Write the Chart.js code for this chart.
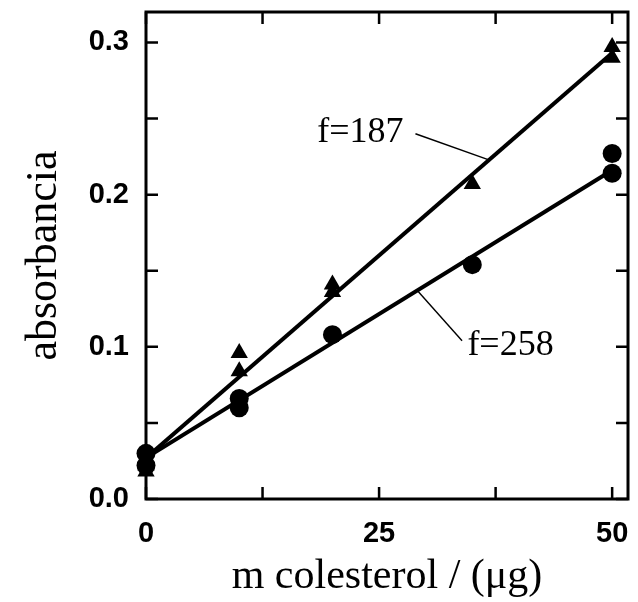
<!DOCTYPE html>
<html>
<head>
<meta charset="utf-8">
<script src="https://cdn.jsdelivr.net/npm/chart.js@4"></script>
<style>
  html, body { margin: 0; padding: 0; background: #fff; }
  #wrap { width: 638px; height: 602px; }
</style>
</head>
<body>
<div id="wrap"><canvas id="chart" width="638" height="602"></canvas></div>
<script>
const triX = [0, 0, 10, 10, 20, 20, 35, 50, 50];
const triY = [0.018, 0.022, 0.096, 0.084, 0.141, 0.136, 0.207, 0.297, 0.290];
const circX = [0, 0, 10, 10, 20, 35, 50, 50];
const circY = [0.030, 0.022, 0.066, 0.060, 0.108, 0.154, 0.227, 0.214];

// fitted lines (end points)
const fitX = [0, 50];
const fit187Y = [0.027, 0.293];
const fit258Y = [0.027, 0.216];

// leader lines for the labels
const lead187X = [28.9, 36.7];
const lead187Y = [0.240, 0.223];
const lead258X = [29.1, 33.9];
const lead258Y = [0.137, 0.104];

const labels = ['f=187', 'f=258'];
const labelX = [23.0, 39.1];
const labelY = [0.241, 0.101];

const xTicks = [0, 12.5, 25, 37.5, 50];
const xLabelled = [0, 25, 50];
const yTicks = [0, 0.05, 0.1, 0.15, 0.2, 0.25, 0.3];
const yLabelled = [0, 0.1, 0.2, 0.3];

function pts(xs, ys) {
    return xs.map((x, i) => ({ x: x, y: ys[i] }));
}

const framePlugin = {
    id: 'frame',
    afterDatasetsDraw(chart) {
        const ctx = chart.ctx;
        const a = chart.chartArea;
        const xs = chart.scales.x, ys = chart.scales.y;
        ctx.save();
        ctx.strokeStyle = '#000';
        ctx.lineWidth = 3;
        ctx.strokeRect(a.left, a.top, a.right - a.left, a.bottom - a.top);
        ctx.lineWidth = 2.5;
        ctx.beginPath();
        xTicks.forEach(v => {
            const px = xs.getPixelForValue(v);
            ctx.moveTo(px, a.bottom); ctx.lineTo(px, a.bottom - 12);
            ctx.moveTo(px, a.top); ctx.lineTo(px, a.top + 12);
        });
        yTicks.forEach(v => {
            const py = ys.getPixelForValue(v);
            ctx.moveTo(a.left, py); ctx.lineTo(a.left + 12, py);
            ctx.moveTo(a.right, py); ctx.lineTo(a.right - 12, py);
        });
        ctx.stroke();

        // curve labels
        ctx.fillStyle = '#000';
        ctx.font = '36px "Liberation Serif", serif';
        ctx.textAlign = 'center';
        ctx.textBaseline = 'middle';
        labels.forEach((t, i) => {
            ctx.fillText(t, xs.getPixelForValue(labelX[i]), ys.getPixelForValue(labelY[i]));
        });
        ctx.restore();
    }
};

new Chart(document.getElementById('chart'), {
    type: 'scatter',
    data: {
        datasets: [
            {
                type: 'line', data: pts(fitX, fit187Y), borderColor: '#000',
                borderWidth: 4, pointRadius: 0, fill: false
            },
            {
                type: 'line', data: pts(fitX, fit258Y), borderColor: '#000',
                borderWidth: 4, pointRadius: 0, fill: false
            },
            {
                type: 'line', data: pts(lead187X, lead187Y), borderColor: '#000',
                borderWidth: 1.4, pointRadius: 0, fill: false
            },
            {
                type: 'line', data: pts(lead258X, lead258Y), borderColor: '#000',
                borderWidth: 1.4, pointRadius: 0, fill: false
            },
            {
                data: pts(triX, triY), pointStyle: 'triangle', pointRadius: 10,
                backgroundColor: '#000', borderColor: '#000', borderWidth: 0, clip: false
            },
            {
                data: pts(circX, circY), pointStyle: 'circle', pointRadius: 9.5,
                backgroundColor: '#000', borderColor: '#000', borderWidth: 0, clip: false
            }
        ]
    },
    options: {
        responsive: false,
        animation: false,
        layout: { padding: { left: 0, right: 5, top: 12, bottom: 0 } },
        plugins: {
            legend: { display: false },
            tooltip: { enabled: false }
        },
        scales: {
            x: {
                type: 'linear',
                min: 0,
                max: 51.7,
                afterBuildTicks: function(scale) {
                    scale.ticks = xTicks.map(v => ({ value: v }));
                },
                afterFit: function(scale) {
                    scale.height = 103;
                    scale.paddingLeft = 0;
                    scale.paddingRight = 0;
                },
                ticks: {
                    autoSkip: false,
                    maxRotation: 0,
                    padding: 18,
                    color: '#000',
                    font: { family: '"Liberation Sans", Arial, sans-serif', size: 29, weight: 'bold' },
                    callback: function(value) {
                        return xLabelled.includes(value) ? String(value) : '';
                    }
                },
                grid: { display: false, drawTicks: false },
                border: { display: false },
                title: {
                    display: true,
                    text: 'm colesterol / (\u03bcg)',
                    color: '#000',
                    padding: { top: 0, bottom: 0 },
                    font: { family: '"Liberation Serif", "Times New Roman", serif', size: 42, lineHeight: 1.2 }
                }
            },
            y: {
                type: 'linear',
                min: 0,
                max: 0.32,
                afterBuildTicks: function(scale) {
                    scale.ticks = yTicks.map(v => ({ value: v }));
                },
                afterFit: function(scale) {
                    scale.width = 146;
                    scale.paddingTop = 0;
                    scale.paddingBottom = 0;
                },
                ticks: {
                    autoSkip: false,
                    padding: 17,
                    color: '#000',
                    font: { family: '"Liberation Sans", Arial, sans-serif', size: 29, weight: 'bold' },
                    callback: function(value) {
                        return yLabelled.some(v => Math.abs(v - value) < 1e-9) ? value.toFixed(1) : '';
                    }
                },
                grid: { display: false, drawTicks: false },
                border: { display: false },
                title: {
                    display: true,
                    text: 'absorbancia',
                    color: '#000',
                    padding: { top: 18, bottom: 0 },
                    font: { family: '"Liberation Serif", "Times New Roman", serif', size: 44, lineHeight: 1.2 }
                }
            }
        }
    },
    plugins: [framePlugin]
});
</script>
</body>
</html>
